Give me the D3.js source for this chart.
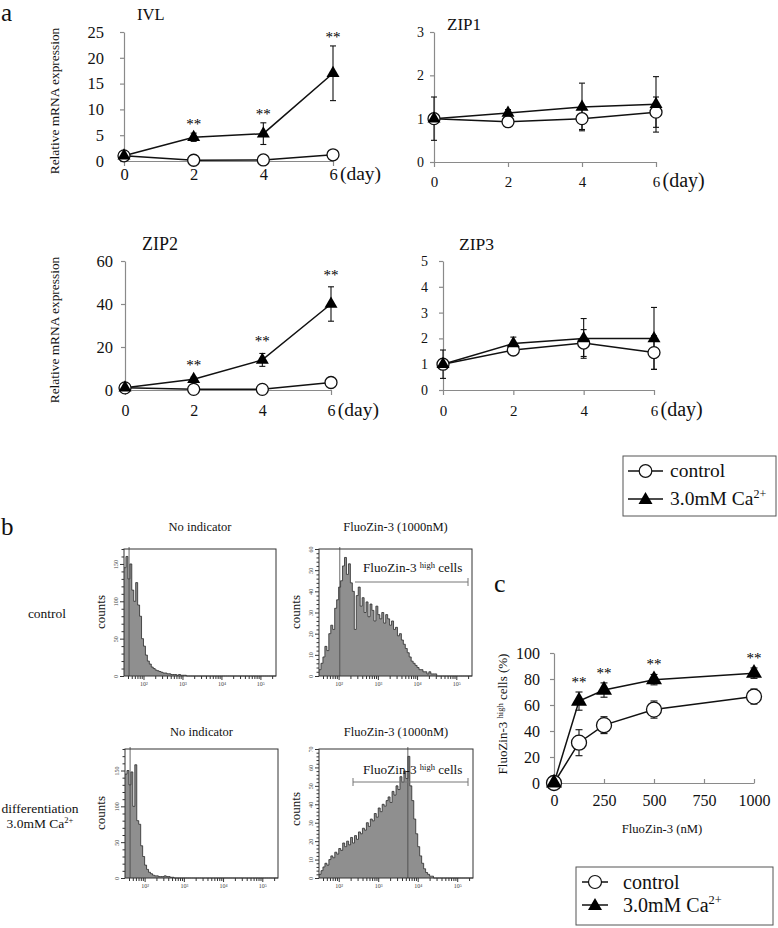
<!DOCTYPE html>
<html><head><meta charset="utf-8">
<script src="https://cdn.jsdelivr.net/npm/d3@7"></script>
<style>
body{margin:0;background:#fff;}
svg{display:block;}
svg text{font-family:"Liberation Serif","Times New Roman","DejaVu Serif",serif;}
</style></head><body>
<svg id="chart" width="778" height="928"></svg>
<script>
// ================= DATA =================
const days = [0, 2, 4, 6];

const ivlControl    = [1, 0.15, 0.2, 1.2];
const ivlControlErr = [0.1, 0.05, 0.05, 0.2];
const ivlCa         = [1, 4.6, 5.3, 17];
const ivlCaErr      = [0.1, 0.8, 2.1, 5.3];
const ivlStars      = [false, true, true, true];
const ivlTicks      = [0, 5, 10, 15, 20, 25];

const zip1Control    = [1, 0.93, 1.0, 1.15];
const zip1ControlErr = [0.5, 0.05, 0.25, 0.35];
const zip1Ca         = [1, 1.13, 1.27, 1.33];
const zip1CaErr      = [0.05, 0.08, 0.55, 0.64];
const zip1Stars      = [false, false, false, false];
const zip1Ticks      = [0, 1, 2, 3];

const zip2Control    = [1, 0.3, 0.3, 3.5];
const zip2ControlErr = [0.3, 0.2, 0.2, 0.5];
const zip2Ca         = [1, 5, 14, 40];
const zip2CaErr      = [0.3, 1, 3, 8];
const zip2Stars      = [false, true, true, true];
const zip2Ticks      = [0, 20, 40, 60];

const zip3Control    = [1, 1.55, 1.82, 1.45];
const zip3ControlErr = [0.55, 0.1, 0.52, 0.65];
const zip3Ca         = [1, 1.8, 2.0, 2.0];
const zip3CaErr      = [0.05, 0.25, 0.77, 1.2];
const zip3Stars      = [false, false, false, false];
const zip3Ticks      = [0, 1, 2, 3, 4, 5];

// panel c
const fluoConc       = [0, 125, 250, 500, 1000];
const fluoControl    = [0, 31, 44.5, 56.5, 66.5];
const fluoControlErr = [0, 10, 6.5, 6.6, 5.8];
const fluoCa         = [0, 63, 71.5, 79.5, 84.5];
const fluoCaErr      = [0, 7, 5.5, 4, 4];
const fluoStars      = [false, true, true, true, true];
const fluoXTicks     = [0, 250, 500, 750, 1000];
const fluoYTicks     = [0, 20, 40, 60, 80, 100];

// panel b histograms: counts per log10 bin, bins start at 10^1.5, width 0.05 decade
const binStart = 1.5, binWidth = 0.05, logMax = 5.4;
const histControlNone = [
  145,160,130,150,115,100,125,95,80,50,
  40,28,20,16,12,10,8,7,6,5,
  4,4,3,3,2,2,2,1,2,1,
  1,1,0,0,0,0,0,0,0,0,
  0,0,0,0,0,0,0,0,0,0,
  0,0,0,0,0,0,0,0,0,0,
  0,0,0,0,0,0,0,0,0,0,
  0,0,0,0,0,0,0,0];
const histControlFluo = [
  3,6,9,14,12,20,24,22,32,36,
  42,45,52,56,48,53,44,40,22,38,
  42,33,37,30,35,28,34,31,26,33,
  29,27,30,25,29,27,24,26,22,23,
  19,20,17,15,13,11,9,7,6,5,
  4,3,3,2,2,1,2,1,1,1,
  0,0,0,0,0,0,0,0,0,0,
  0,0,0,0,0,0,0,0];
const histDiffNone = [
  145,150,130,148,100,158,80,75,45,30,
  18,12,8,6,4,3,3,2,2,2,
  3,2,2,1,1,0,0,0,0,0,
  0,0,0,0,0,0,0,0,0,0,
  0,0,0,0,0,0,0,0,0,0,
  0,0,0,0,0,0,0,0,0,0,
  0,0,0,0,0,0,0,0,0,0,
  0,0,0,0,0,0,0,0];
const histDiffFluo = [
  2,4,6,8,7,10,12,11,14,13,
  16,15,19,17,20,18,22,19,23,21,
  25,24,27,26,30,28,32,31,35,33,
  38,36,40,39,42,44,41,47,45,50,
  48,55,52,58,54,66,50,42,32,24,
  17,12,8,5,3,2,1,1,0,0,
  0,0,0,0,0,0,0,0,0,0,
  0,0,0,0,0,0,0,0];
const histSpikeLog = [1.63, 2.03, 1.63, 3.75];
const histYMax     = [170, 60, 180, 70];
const histYMajor   = [[0,50,100,150],[0,10,20,30,40,50,60],[0,50,100,150],[0,10,20,30,40,50,60,70]];
const histYMinorStep = [10, 2, 10, 2];
const histTitles   = ["No indicator", "FluoZin-3  (1000nM)", "No indicator", "FluoZin-3  (1000nM)"];

// ================= DRAWING =================
const svg = d3.select('#chart');
const AX = '#8a8a8a';

function triPath(s){ const a=s*0.577, b=s*0.289, h=s/2; return `M0,${-a}L${h},${b}L${-h},${b}Z`; }

function styleAxis(g, fs){
  g.attr('font-family', null);
  g.select('.domain').attr('stroke', AX).attr('stroke-width', 1.2);
  g.selectAll('.tick line').attr('stroke', AX).attr('stroke-width', 1.2);
  g.selectAll('.tick text').attr('font-size', fs).attr('fill', '#111');
}

function errBars(g, x, y, xs, vals, errs, cap){
  xs.forEach((xv, i) => {
    const e = errs[i]; if (!e) return;
    const px = x(xv), t = y(vals[i] + e), b = y(Math.max(0, vals[i] - e));
    g.append('line').attr('x1', px).attr('x2', px).attr('y1', t).attr('y2', b).attr('stroke', '#111').attr('stroke-width', 1.1);
    g.append('line').attr('x1', px-cap).attr('x2', px+cap).attr('y1', t).attr('y2', t).attr('stroke', '#111').attr('stroke-width', 1.1);
    g.append('line').attr('x1', px-cap).attr('x2', px+cap).attr('y1', b).attr('y2', b).attr('stroke', '#111').attr('stroke-width', 1.1);
  });
}

function seriesPanel(o){
  const g = svg.append('g');
  const x = d3.scaleLinear().domain(o.xDomain).range([o.x0, o.x1]);
  const y = d3.scaleLinear().domain([0, o.yMax]).range([o.y0, o.y1]);
  const ya = g.append('g').attr('transform', `translate(${o.x0},0)`)
    .call(d3.axisLeft(y).tickValues(o.yTicks).tickFormat(d => String(d)).tickSize(4).tickSizeOuter(0).tickPadding(o.yPad));
  styleAxis(ya, o.yFont);
  const xa = g.append('g').attr('transform', `translate(0,${o.y0})`)
    .call(d3.axisBottom(x).tickValues(o.xTicks).tickFormat(d => String(d)).tickSize(o.xTick).tickSizeOuter(0).tickPadding(o.xPad));
  styleAxis(xa, o.xFont);
  if (o.unit){
    const base = Math.max(o.xTick,0) + o.xPad + 0.71*o.xFont;
    g.append('text').attr('x', x(o.xDomain[1]) + 0.3*o.xFont + 2).attr('y', o.y0 + base)
      .attr('font-size', o.unitFont).attr('fill', '#111').text(o.unit);
  }
  errBars(g, x, y, o.xs, o.ctrl, o.ctrlErr, o.cap);
  errBars(g, x, y, o.xs, o.ca, o.caErr, o.cap);
  const line = d3.line().x((d,i) => x(o.xs[i])).y(d => y(d));
  g.append('path').datum(o.ctrl).attr('d', line).attr('fill','none').attr('stroke','#111').attr('stroke-width',1.5);
  g.append('path').datum(o.ca).attr('d', line).attr('fill','none').attr('stroke','#111').attr('stroke-width',1.5);
  o.ctrl.forEach((v,i) => g.append('circle').attr('cx', x(o.xs[i])).attr('cy', y(v)).attr('r', o.r)
    .attr('fill','#fff').attr('stroke','#111').attr('stroke-width',1.3));
  o.ca.forEach((v,i) => g.append('path').attr('d', triPath(o.s))
    .attr('transform', `translate(${x(o.xs[i])},${y(v)})`).attr('fill','#000'));
  o.stars.forEach((st,i) => { if (!st) return;
    g.append('text').attr('x', x(o.xs[i])).attr('y', y(o.ca[i] + o.caErr[i]) - o.starGap)
      .attr('text-anchor','middle').attr('font-size', o.starFont).attr('fill','#000').text('**');
  });
  if (o.title) g.append('text').attr('x', o.titleX).attr('y', o.titleY).attr('font-size', o.titleFont).attr('fill','#111').text(o.title);
  return {g, x, y};
}

const dayCommon = {xDomain:[0,6], xs: days, xTicks: days, xTick: 5, cap: 3, r: 6, s: 13, starFont: 15, unit: '(day)'};

seriesPanel(Object.assign({}, dayCommon, {x0:124, x1:333, y0:161, y1:32, yMax:25, yTicks: ivlTicks, yPad:16, yFont:16.5,
  xPad:2, xFont:16.5, unitFont:19.5, ctrl: ivlControl, ctrlErr: ivlControlErr, ca: ivlCa, caErr: ivlCaErr, stars: ivlStars,
  starGap: 4, title:'IVL', titleX:137, titleY:20, titleFont:16.5}));
seriesPanel(Object.assign({}, dayCommon, {x0:434, x1:656, y0:162, y1:32, yMax:3, yTicks: zip1Ticks, yPad:6, yFont:14,
  xPad:9, xFont:15, unitFont:20, ctrl: zip1Control, ctrlErr: zip1ControlErr, ca: zip1Ca, caErr: zip1CaErr, stars: zip1Stars,
  starGap: 4, title:'ZIP1', titleX:447, titleY:30, titleFont:17}));
seriesPanel(Object.assign({}, dayCommon, {x0:125, x1:331, y0:390, y1:261, yMax:60, yTicks: zip2Ticks, yPad:8, yFont:16.5,
  xPad:10, xFont:16, unitFont:19.5, ctrl: zip2Control, ctrlErr: zip2ControlErr, ca: zip2Ca, caErr: zip2CaErr, stars: zip2Stars,
  starGap: 7, title:'ZIP2', titleX:142, titleY:250, titleFont:18}));
seriesPanel(Object.assign({}, dayCommon, {x0:443, x1:654, y0:390, y1:261, yMax:5, yTicks: zip3Ticks, yPad:11, yFont:14,
  xPad:10, xFont:15, unitFont:20, ctrl: zip3Control, ctrlErr: zip3ControlErr, ca: zip3Ca, caErr: zip3CaErr, stars: zip3Stars,
  starGap: 4, title:'ZIP3', titleX:459, titleY:250, titleFont:17.5}));

// y labels panel a
[[54,101],[54,330]].forEach(([cx,cy]) => {
  svg.append('text').attr('transform', `translate(${cx},${cy}) rotate(-90)`).attr('text-anchor','middle')
    .attr('dy','0.35em').attr('font-size',13.4).attr('fill','#111').text('Relative mRNA expression');
});

// panel letters
svg.append('text').attr('x',1).attr('y',21).attr('font-size',25).attr('fill','#111').text('a');
svg.append('text').attr('x',1).attr('y',535).attr('font-size',25).attr('fill','#111').text('b');
svg.append('text').attr('x',494).attr('y',592).attr('font-size',26).attr('fill','#111').text('c');

// legends
function legend(x0, y0, w, h, rowYs, lineX0, lineX1, textX, fs, r, s){
  const g = svg.append('g');
  g.append('rect').attr('x',x0).attr('y',y0).attr('width',w).attr('height',h).attr('fill','#fff').attr('stroke','#555').attr('stroke-width',1);
  const mx = (lineX0+lineX1)/2;
  rowYs.forEach((ry,i) => {
    g.append('line').attr('x1',lineX0).attr('x2',lineX1).attr('y1',ry).attr('y2',ry).attr('stroke','#111').attr('stroke-width',1.5);
    if (i === 0) g.append('circle').attr('cx',mx).attr('cy',ry).attr('r',r).attr('fill','#fff').attr('stroke','#111').attr('stroke-width',1.2);
    else g.append('path').attr('d', triPath(s)).attr('transform',`translate(${mx},${ry+1})`).attr('fill','#000');
    const t = g.append('text').attr('x',textX).attr('y',ry).attr('dy','0.33em').attr('font-size',fs).attr('fill','#111');
    if (i === 0) t.text('control');
    else { t.append('tspan').text('3.0mM Ca'); t.append('tspan').attr('font-size', fs*0.62).attr('dy', -fs*0.4).text('2+'); }
  });
}
legend(623, 456, 153, 60, [471, 499], 628, 663, 670, 19.5, 6.3, 14);
legend(576, 867, 197, 58, [882, 905], 582, 608, 623, 20, 6.5, 14);

// panel c
{
  const o = {xDomain:[0,1000], xs: fluoConc, xTicks: fluoXTicks, xTick: -4, cap: 3.5, r: 7.5, s: 16, starFont: 15,
    x0:554, x1:754, y0:783, y1:653, yMax:100, yTicks: fluoYTicks, yPad:10, yFont:16, xPad:12, xFont:16,
    ctrl: fluoControl, ctrlErr: fluoControlErr, ca: fluoCa, caErr: fluoCaErr, stars: fluoStars, starGap: 5};
  seriesPanel(o);
  svg.append('text').attr('x',662).attr('y',829).attr('dy','0.35em').attr('text-anchor','middle')
    .attr('font-size',12.7).attr('fill','#111').text('FluoZin-3  (nM)');
  const t = svg.append('text').attr('transform','translate(502,714) rotate(-90)').attr('text-anchor','middle')
    .attr('dy','0.35em').attr('font-size',13).attr('fill','#111');
  t.append('tspan').text('FluoZin-3 ');
  t.append('tspan').attr('font-size',8.5).attr('dy',-4).text('high');
  t.append('tspan').attr('dy',4).text(' cells (%)');
}

// panel b histograms
const histData = [histControlNone, histControlFluo, histDiffNone, histDiffFluo];
const histBoxes = [[124,276,549,676],[319,472,549,676],[125,278,749,878],[319,473,749,878]];
const countsLabelPos = [[100,612],[295,612],[100,813],[295,809]];
const titleY = [527, 527, 732, 732];

histData.forEach((counts, k) => {
  const [L,R,T,B] = histBoxes[k];
  const g = svg.append('g');
  const x = d3.scaleLog().domain([Math.pow(10,binStart), Math.pow(10,logMax)]).range([L,R]);
  const y = d3.scaleLinear().domain([0, histYMax[k]]).range([B,T]);
  const pts = counts.map((c,i) => [Math.pow(10, binStart + i*binWidth), c]);
  pts.push([Math.pow(10, logMax), 0]);
  const area = d3.area().x(d => x(d[0])).y0(y(0)).y1(d => y(d[1])).curve(d3.curveStepAfter);
  g.append('path').datum(pts).attr('d', area).attr('fill','#8f8f8f');
  const ln = d3.line().x(d => x(d[0])).y(d => y(d[1])).curve(d3.curveStepAfter);
  g.append('path').datum(pts).attr('d', ln).attr('fill','none').attr('stroke','#2a2a2a').attr('stroke-width',0.8);
  const sx = x(Math.pow(10, histSpikeLog[k]));
  g.append('line').attr('x1',sx).attr('x2',sx).attr('y1',B).attr('y2',T-2).attr('stroke','#444').attr('stroke-width',0.8);
  g.append('rect').attr('x',L).attr('y',T).attr('width',R-L).attr('height',B-T).attr('fill','none').attr('stroke','#333').attr('stroke-width',1);
  // y axis
  const minor = d3.range(0, histYMax[k] + 0.001, histYMinorStep[k]);
  const majors = histYMajor[k];
  const ya = g.append('g').attr('transform',`translate(${L},0)`)
    .call(d3.axisLeft(y).tickValues(minor).tickSize(3).tickSizeOuter(0).tickFormat(d => majors.includes(d) ? d : ''));
  ya.attr('font-family', null);
  ya.select('.domain').remove();
  ya.selectAll('.tick line').attr('stroke','#333').attr('x2', d => majors.includes(d) ? -4 : -2.5);
  ya.selectAll('.tick text').attr('x',0).attr('dy',0).attr('text-anchor','middle')
    .attr('transform','translate(-6,0) rotate(-90)').attr('font-size',6).attr('fill','#444');
  // x axis
  const sup = {2:'\u00b2',3:'\u00b3',4:'\u2074',5:'\u2075'};
  const xt = x.ticks();
  const xa = g.append('g').attr('transform',`translate(0,${B})`)
    .call(d3.axisBottom(x).tickValues(xt).tickSize(3).tickSizeOuter(0).tickPadding(3)
      .tickFormat(d => { const lg = Math.round(Math.log10(d)); return Math.abs(Math.log10(d)-lg) < 1e-6 ? '10' + sup[lg] : ''; }));
  xa.attr('font-family', null);
  xa.select('.domain').remove();
  xa.selectAll('.tick line').attr('stroke','#333')
    .attr('y2', d => Math.abs(Math.log10(d) - Math.round(Math.log10(d))) < 1e-6 ? 4 : 3);
  xa.selectAll('.tick text').attr('font-size',6).attr('fill','#444');
  // labels
  const [cx, cy] = countsLabelPos[k];
  g.append('text').attr('transform',`translate(${cx},${cy}) rotate(-90)`).attr('text-anchor','middle').attr('dy','0.35em')
    .attr('font-size',13).attr('fill','#111').text('counts');
  g.append('text').attr('x',(L+R)/2).attr('y',titleY[k]).attr('dy','0.35em').attr('text-anchor','middle')
    .attr('font-size',12.5).attr('fill','#111').text(histTitles[k]);
  if (k === 1 || k === 3){
    const gy = k === 1 ? 582 : 782;
    const gx0 = k === 1 ? 355 : 353;
    g.append('line').attr('x1',gx0).attr('x2',468).attr('y1',gy).attr('y2',gy).attr('stroke','#777').attr('stroke-width',1);
    g.append('line').attr('x1',468).attr('x2',468).attr('y1',gy-4).attr('y2',gy+4).attr('stroke','#777').attr('stroke-width',1);
    if (k === 3) g.append('line').attr('x1',gx0).attr('x2',gx0).attr('y1',gy-4).attr('y2',gy+4).attr('stroke','#777').attr('stroke-width',1);
    const t = g.append('text').attr('x',363).attr('y', k === 1 ? 572 : 774).attr('font-size',13.2).attr('fill','#111');
    t.append('tspan').text('FluoZin-3 ');
    t.append('tspan').attr('font-size',8.5).attr('dy',-4).text('high');
    t.append('tspan').attr('dy',4).text(' cells');
  }
});

// row labels panel b
svg.append('text').attr('x',47).attr('y',613).attr('dy','0.35em').attr('text-anchor','middle').attr('font-size',13.5).attr('fill','#111').text('control');
svg.append('text').attr('x',40).attr('y',808).attr('dy','0.35em').attr('text-anchor','middle').attr('font-size',13.5).attr('fill','#111').text('differentiation');
{
  const t = svg.append('text').attr('x',40).attr('y',823).attr('dy','0.35em').attr('text-anchor','middle').attr('font-size',13.5).attr('fill','#111');
  t.append('tspan').text('3.0mM Ca');
  t.append('tspan').attr('font-size',8.5).attr('dy',-5).text('2+');
}
</script>
</body></html>
